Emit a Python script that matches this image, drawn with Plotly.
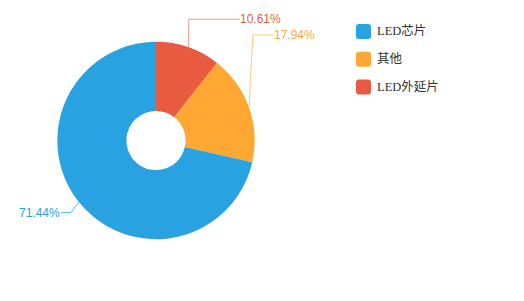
import plotly.graph_objects as go
import math

# ---- data ----
labels = ["LED芯片", "其他", "LED外延片"]
values = [71.44, 17.94, 10.61]
colors = ["#29a2e2", "#ffa733", "#e95b41"]
label_text = ["71.44%", "17.94%", "10.61%"]

# ---- layout constants ----
W, H = 524, 301
CX, CY, R = 156.0, 140.5, 98.7
HOLE = 0.3
# leader line elbow offsets (px) relative to slice edge point, horizontal segment length
elbow = [(-8, 10.5, -10), (3.8, -72.6, 21), (0.5, -28, 51)]
line_colors = ["rgba(41,162,226,0.8)", "rgba(255,167,51,0.6)", "rgba(233,91,65,0.6)"]

def px(x):
    return x / W

def py(y):
    return 1 - y / H

# slices drawn clockwise from 12 o'clock in reverse order (外延片, 其他, 芯片)
order = list(reversed(range(len(labels))))
fig = go.Figure()
fig.add_trace(go.Pie(
    labels=[labels[i] for i in order], values=[values[i] for i in order],
    sort=False, direction="clockwise", rotation=0, hole=HOLE,
    textinfo="none", hoverinfo="label+percent",
    marker=dict(colors=[colors[i] for i in order], line=dict(width=0)),
    domain=dict(x=[px(CX - R), px(CX + R)], y=[py(CY + R), py(CY - R)]),
    showlegend=False,
))

shapes = []
annotations = []
total = sum(values)
cum = 0.0
mids = {}
for i in order:
    v = values[i]
    mids[i] = (cum + v / 2) / total * 2 * math.pi
    cum += v
for i in range(len(values)):
    mid_cw = mids[i]
    ex = CX + R * math.sin(mid_cw)
    ey = CY - R * math.cos(mid_cw)
    dx, dy, hl = elbow[i]
    bx, by = ex + dx, ey + dy
    tx = bx + hl
    shapes.append(dict(
        type="path", xref="paper", yref="paper",
        path=f"M {px(ex)} {py(ey)} L {px(bx)} {py(by)} L {px(tx)} {py(by)}",
        line=dict(color=line_colors[i], width=1),
    ))
    right = hl > 0
    annotations.append(dict(
        x=px(tx + (-1.5 if right else 1.5)), y=py(by), xref="paper", yref="paper",
        text=label_text[i], showarrow=False,
        xanchor="left" if right else "right", yanchor="middle",
        font=dict(family="Liberation Sans, Arial, sans-serif", size=12, color=colors[i]),
    ))

# custom legend
LX, LY0, LSTEP, LS = 356, 31.5, 27.7, 15
for i, lab in enumerate(labels):
    cy = LY0 + i * LSTEP
    x0, x1 = LX, LX + LS
    y0, y1 = cy - LS / 2, cy + LS / 2
    rr = 3
    path = (f"M {px(x0+rr)} {py(y0)} L {px(x1-rr)} {py(y0)} Q {px(x1)} {py(y0)} {px(x1)} {py(y0+rr)} "
            f"L {px(x1)} {py(y1-rr)} Q {px(x1)} {py(y1)} {px(x1-rr)} {py(y1)} "
            f"L {px(x0+rr)} {py(y1)} Q {px(x0)} {py(y1)} {px(x0)} {py(y1-rr)} "
            f"L {px(x0)} {py(y0+rr)} Q {px(x0)} {py(y0)} {px(x0+rr)} {py(y0)} Z")
    shapes.append(dict(type="path", xref="paper", yref="paper", path=path,
                       fillcolor=colors[i], line=dict(width=0)))
    annotations.append(dict(
        x=px(LX + LS + 3.5), y=py(cy), xref="paper", yref="paper", text=lab,
        showarrow=False, xanchor="left", yanchor="middle",
        font=dict(family="Liberation Serif, Noto Sans CJK SC, serif", size=12.5, color="#333333"),
    ))

fig.update_layout(
    width=W, height=H, margin=dict(l=0, r=0, t=0, b=0),
    paper_bgcolor="white", plot_bgcolor="white",
    shapes=shapes, annotations=annotations,
)
fig.write_html("out.html")
